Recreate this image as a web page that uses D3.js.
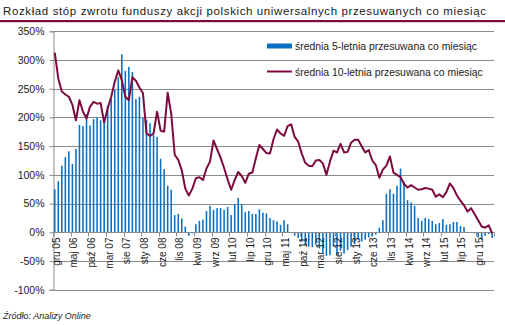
<!DOCTYPE html>
<html><head><meta charset="utf-8">
<script src="https://cdn.jsdelivr.net/npm/d3@7"></script>
<style>body{margin:0;background:#fff}svg{display:block}</style>
</head><body><svg id="c" width="505" height="325"></svg>
<script>
const monthNames = ["sty","lut","mar","kwi","maj","cze","lip","sie","wrz","paź","lis","gru"];
const startYear = 2005, startMonth = 11, monthCount = 125;
const categories = d3.range(monthCount).map(k => {
  const m = (startMonth + k) % 12, yr = startYear + Math.floor((startMonth + k) / 12);
  return monthNames[m] + " " + String(yr % 100).padStart(2, "0");
});
const avg5 = [75,89,116,131,141,119,145,187,185,206,186,197,200,195,200,221,232,248,270,310,
  281,288,279,232,236,199,196,190,170,166,128,110,81,74,30,32,24,10,-6,-2,
  14,20,22,37,46,39,42,42,39,44,30,49,60,49,35,37,32,32,40,34,
  33,25,21,19,13,21,14,0,-6,-10,-16,-22,-25,-26,-22,-28,-37,-41,-40,-25,
  -40,-32,-37,-31,-25,-21,-13,-16,-13,-9,-7,-4,8,21,67,75,67,81,111,88,
  56,52,46,25,20,25,23,20,14,16,23,13,14,18,18,11,9,-1,-1,-2,
  -9,-13,-6,-3,-10];
const avg10 = [313,268,245,240,236,222,195,230,210,198,219,227,224,225,191,216,236,262,282,265,
  236,230,270,264,252,242,172,168,172,210,177,175,243,207,135,126,108,76,64,76,
  94,96,91,111,123,160,145,130,112,92,74,91,105,98,86,102,104,129,152,145,
  138,137,162,179,172,168,185,188,166,158,137,121,116,115,125,126,120,100,123,142,
  139,154,139,140,156,161,161,150,139,143,125,117,95,109,116,132,104,100,96,84,
  78,82,78,74,75,77,76,74,62,66,61,70,85,77,64,55,47,36,42,32,
  21,10,8,12,-2];
const yTicks = [350,300,250,200,150,100,50,0,-50,-100];
const xTickLabels = ["gru 05","maj 06","paź 06","mar 07","sie 07","sty 08","cze 08","lis 08","kwi 09","wrz 09",
  "lut 10","lip 10","gru 10","maj 11","paź 11","mar 12","sie 12","sty 13","cze 13","lis 13",
  "kwi 14","wrz 14","lut 15","lip 15","gru 15"];
const titleText = "Rozkład stóp zwrotu funduszy akcji polskich uniwersalnych przesuwanych co miesiąc";
const legendLabels = ["średnia 5-letnia przesuwana co miesiąc","średnia 10-letnia przesuwana co miesiąc"];
const sourceText = "Źródło: Analizy Online";

const svg = d3.select("#c");
const font = "'Liberation Sans', Arial, sans-serif";
const plotL = 53, plotR = 494, plotT = 31.3, plotB = 289.7;
const blue = "#0a6fc2", maroon = "#7d0a3e", grid = "#8c8c8c", txt = "#1a1a1a";

const x = d3.scaleBand().domain(categories).range([plotL, plotR]).paddingInner(0.56).paddingOuter(0.28);
const cx = c => x(c) + x.bandwidth() / 2;
const y = d3.scaleLinear().domain([-100, 350]).range([plotB, plotT]);

// title
svg.append("text").attr("x", 3).attr("y", 15).attr("font-family", font).attr("font-size", 11.5)
  .attr("fill", txt).attr("textLength", 483).attr("lengthAdjust", "spacing").text(titleText);
svg.append("rect").attr("x", 0).attr("y", 20).attr("width", 505).attr("height", 2.2).attr("fill", maroon);

// gridlines
svg.append("g").selectAll("line").data(yTicks.filter(d => d !== 0)).join("line")
  .attr("x1", plotL).attr("x2", plotR)
  .attr("y1", d => Math.round(y(d)) + 0.5).attr("y2", d => Math.round(y(d)) + 0.5)
  .attr("stroke", grid).attr("stroke-width", 1);

// y axis
const yAxis = d3.axisLeft(y).tickValues(yTicks).tickFormat(d => d + "%").tickSize(4).tickPadding(5);
const gy = svg.append("g").attr("transform", `translate(${plotL + 0.5},0)`).call(yAxis);
gy.select(".domain").attr("stroke", grid);
gy.selectAll(".tick line").attr("stroke", grid);
gy.selectAll("text").attr("font-family", font).attr("font-size", 10.5).attr("fill", txt);

// bars
svg.append("g").selectAll("rect").data(categories).join("rect")
  .attr("x", c => x(c))
  .attr("width", x.bandwidth())
  .attr("y", (c, i) => y(Math.max(0, avg5[i])))
  .attr("height", (c, i) => Math.abs(y(avg5[i]) - y(0)))
  .attr("fill", blue);

// x axis
const y0 = Math.round(y(0)) + 0.5;
svg.append("line").attr("x1", plotL).attr("x2", plotR).attr("y1", y0).attr("y2", y0).attr("stroke", grid);
const step = x.step();
svg.append("g").selectAll("line").data(d3.range(0, categories.length + 1, 5)).join("line")
  .attr("x1", k => Math.round(plotL + k * step) + 0.5).attr("x2", k => Math.round(plotL + k * step) + 0.5)
  .attr("y1", y0).attr("y2", y0 + 4).attr("stroke", grid);
svg.append("g").selectAll("text").data(xTickLabels).join("text")
  .attr("transform", l => `translate(${cx(l) + 1.5},${y0 + 5}) rotate(-90)`)
  .attr("dy", "0.35em").attr("text-anchor", "end")
  .attr("font-family", font).attr("font-size", 10).attr("fill", txt).text(l => l);

// line
svg.append("path").datum(avg10)
  .attr("d", d3.line().x((v, i) => cx(categories[i])).y(v => y(v)))
  .attr("fill", "none").attr("stroke", maroon).attr("stroke-width", 2).attr("stroke-linejoin", "round");

// legend
svg.append("rect").attr("x", 267).attr("y", 43.5).attr("width", 25).attr("height", 5).attr("fill", blue);
svg.append("line").attr("x1", 267).attr("x2", 292).attr("y1", 71.5).attr("y2", 71.5).attr("stroke", maroon).attr("stroke-width", 2);
svg.append("text").attr("x", 295).attr("y", 49.5).attr("font-family", font).attr("font-size", 10.4).attr("fill", txt).text(legendLabels[0]);
svg.append("text").attr("x", 295).attr("y", 75.5).attr("font-family", font).attr("font-size", 10.4).attr("fill", txt).text(legendLabels[1]);

// source
svg.append("text").attr("x", 3).attr("y", 319).attr("font-family", font).attr("font-size", 9).attr("font-style", "italic")
  .attr("fill", txt).text(sourceText);
</script></body></html>
